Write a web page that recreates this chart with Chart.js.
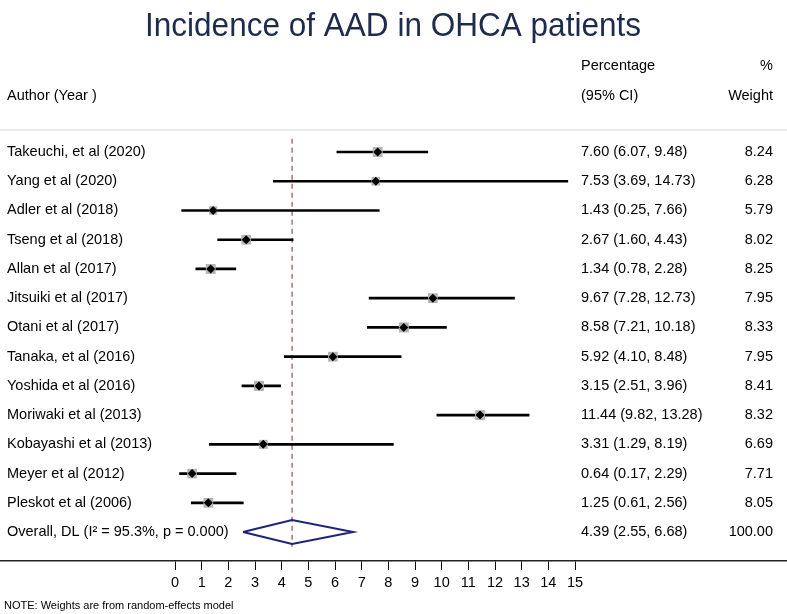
<!DOCTYPE html>
<html>
<head>
<meta charset="utf-8">
<script src="https://cdn.jsdelivr.net/npm/chart.js@4/dist/chart.umd.min.js"></script>
<style>
  body { margin: 0; background: #fff; }
  #wrap { width: 787px; height: 614px; position: relative; }
</style>
</head>
<body>
<div id="wrap"><canvas id="forest"></canvas></div>
<script>
// study data
const authors = [
  'Takeuchi, et al (2020)', 'Yang et al (2020)', 'Adler et al (2018)', 'Tseng et al (2018)',
  'Allan et al (2017)', 'Jitsuiki et al (2017)', 'Otani et al (2017)', 'Tanaka, et al (2016)',
  'Yoshida et al (2016)', 'Moriwaki et al (2013)', 'Kobayashi et al (2013)', 'Meyer et al (2012)',
  'Pleskot et al (2006)'
];
const estimate = [7.60, 7.53, 1.43, 2.67, 1.34, 9.67, 8.58, 5.92, 3.15, 11.44, 3.31, 0.64, 1.25];
const lower    = [6.07, 3.69, 0.25, 1.60, 0.78, 7.28, 7.21, 4.10, 2.51, 9.82, 1.29, 0.17, 0.61];
const upper    = [9.48, 14.73, 7.66, 4.43, 2.28, 12.73, 10.18, 8.48, 3.96, 13.28, 8.19, 2.29, 2.56];
const weight   = [8.24, 6.28, 5.79, 8.02, 8.25, 7.95, 8.33, 7.95, 8.41, 8.32, 6.69, 7.71, 8.05];

const overallLabel = 'Overall, DL (I\u00B2 = 95.3%, p = 0.000)';
const overallEst = 4.39;
const overallLo = 2.55;
const overallHi = 6.68;
const overallWeight = 100.00;

const xTicks = [0, 1, 2, 3, 4, 5, 6, 7, 8, 9, 10, 11, 12, 13, 14, 15];

const FONT = '"Liberation Sans", Arial, Helvetica, sans-serif';
const overallRow = authors.length;

const fmtCI = (e, l, h) => `${e.toFixed(2)} (${l.toFixed(2)}, ${h.toFixed(2)})`;

// text, header line and note drawn around the plot
const forestText = {
  id: 'forestText',
  beforeDatasetsDraw(chart) {
    const ctx = chart.ctx;
    const top = chart.chartArea.top;
    ctx.save();
    ctx.strokeStyle = '#d4d4d4';
    ctx.lineWidth = 1.2;
    ctx.beginPath();
    ctx.moveTo(0, top);
    ctx.lineTo(chart.width, top);
    ctx.stroke();
    ctx.restore();
  },
  afterDraw(chart) {
    const ctx = chart.ctx;
    const y = chart.scales.y;
    ctx.save();

    // title
    ctx.fillStyle = '#1f2b4d';
    ctx.font = `33px ${FONT}`;
    ctx.textAlign = 'center';
    ctx.textBaseline = 'alphabetic';
    ctx.fillText('Incidence of AAD in OHCA patients', 393, 36, 496);

    // headers
    ctx.fillStyle = '#000';
    ctx.font = `14.5px ${FONT}`;
    ctx.textBaseline = 'middle';
    ctx.textAlign = 'left';
    ctx.fillText('Author (Year )', 7, 96);
    ctx.fillText('Percentage', 581, 66);
    ctx.fillText('(95% CI)', 581, 96);
    ctx.textAlign = 'right';
    ctx.fillText('%', 773, 66);
    ctx.fillText('Weight', 773, 96);

    // rows
    authors.forEach((a, i) => {
      const py = y.getPixelForValue(i);
      ctx.textAlign = 'left';
      ctx.fillText(a, 7, py);
      ctx.fillText(fmtCI(estimate[i], lower[i], upper[i]), 581, py);
      ctx.textAlign = 'right';
      ctx.fillText(weight[i].toFixed(2), 773, py);
    });
    const oy = y.getPixelForValue(overallRow);
    ctx.textAlign = 'left';
    ctx.fillText(overallLabel, 7, oy);
    ctx.fillText(fmtCI(overallEst, overallLo, overallHi), 581, oy);
    ctx.textAlign = 'right';
    ctx.fillText(overallWeight.toFixed(2), 773, oy);

    // note
    ctx.textAlign = 'left';
    ctx.font = `11px ${FONT}`;
    ctx.fillText('NOTE: Weights are from random-effects model', 4, 606);
    ctx.restore();
  }
};

const rows = authors.map((a, i) => i);

new Chart(document.getElementById('forest'), {
  type: 'scatter',
  data: {
    datasets: [
      {
        type: 'line',
        label: 'overall line',
        data: [{ x: overallEst, y: -0.45 }, { x: overallEst, y: 13.5 }],
        borderColor: '#9a4b4b',
        borderWidth: 1.2,
        borderDash: [5, 4],
        pointRadius: 0,
        order: 5
      },
      {
        type: 'bar',
        label: 'CI',
        indexAxis: 'y',
        data: rows.map(i => ({ x: [lower[i], upper[i]], y: i })),
        backgroundColor: '#000',
        barThickness: 2,
        order: 4
      },
      {
        label: 'weight boxes',
        data: rows.map(i => ({ x: estimate[i], y: i })),
        pointStyle: 'rect',
        pointRadius: rows.map(i => 7 * Math.sqrt(weight[i] / 8.24)),
        backgroundColor: '#b4b4b4',
        borderWidth: 0,
        order: 3
      },
      {
        label: 'estimates',
        data: rows.map(i => ({ x: estimate[i], y: i })),
        pointStyle: 'rectRot',
        pointRadius: 4.5,
        backgroundColor: '#000',
        borderWidth: 0,
        order: 2
      },
      {
        type: 'line',
        label: 'overall',
        data: [
          { x: overallLo, y: overallRow },
          { x: overallEst, y: overallRow - 0.41 },
          { x: overallHi, y: overallRow },
          { x: overallEst, y: overallRow + 0.41 },
          { x: overallLo, y: overallRow }
        ],
        borderColor: '#1f237a',
        borderWidth: 2,
        pointRadius: 0,
        fill: false,
        tension: 0,
        order: 1
      }
    ]
  },
  options: {
    responsive: true,
    maintainAspectRatio: false,
    animation: false,
    layout: { autoPadding: false, padding: { top: 130, left: 0, right: 0, bottom: 0 } },
    plugins: { legend: { display: false }, tooltip: { enabled: false }, title: { display: false } },
    scales: {
      x: {
        type: 'linear',
        min: -6.5625,
        max: 22.95,
        afterBuildTicks: s => { s.ticks = xTicks.map(v => ({ value: v })); },
        afterFit: s => { s.height = 53; s.paddingLeft = 0; s.paddingRight = 0; },
        grid: { drawOnChartArea: false, drawTicks: true, tickLength: 9, color: '#000', lineWidth: 1 },
        border: { display: true, color: '#222', width: 1.5 },
        ticks: { color: '#000', font: { family: FONT, size: 14.5 }, padding: 4, maxRotation: 0, autoSkip: false }
      },
      y: {
        type: 'linear',
        display: false,
        reverse: true,
        offset: false,
        min: -0.753,
        max: 13.99
      }
    }
  },
  plugins: [forestText]
});
</script>
</body>
</html>
